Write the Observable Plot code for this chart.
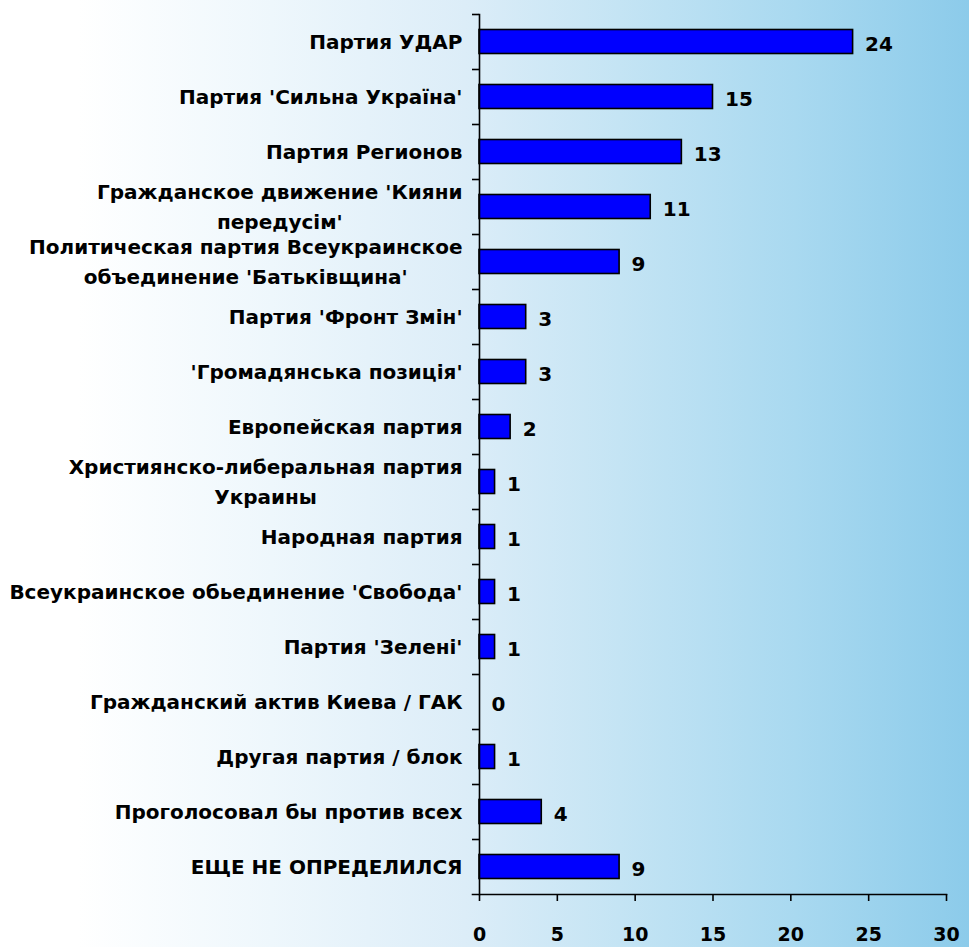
<!DOCTYPE html>
<html><head><meta charset="utf-8">
<script src="https://cdn.jsdelivr.net/npm/d3@7"></script>
<script src="https://cdn.jsdelivr.net/npm/@observablehq/plot@0.6"></script>
<style>html,body{margin:0;padding:0;background:#fff;overflow:hidden}</style>
</head><body><div id="chart"></div>
<script>
const categories = [
  "Партия УДАР",
  "Партия 'Сильна Україна'",
  "Партия Регионов",
  "Гражданское движение 'Кияни\nпередусім'",
  "Политическая партия Всеукраинское\nобъединение 'Батьківщина'",
  "Партия 'Фронт Змін'",
  "'Громадянська позиція'",
  "Европейская партия",
  "Християнско-либеральная партия\nУкраины",
  "Народная партия",
  "Всеукраинское обьединение 'Свобода'",
  "Партия 'Зелені'",
  "Гражданский актив Киева / ГАК",
  "Другая партия / блок",
  "Проголосовал бы против всех",
  "ЕЩЕ НЕ ОПРЕДЕЛИЛСЯ"
];
const values = [24, 15, 13, 11, 9, 3, 3, 2, 1, 1, 1, 1, 0, 1, 4, 9];
const xTicks = [0, 5, 10, 15, 20, 25, 30];

const data = categories.map((c, i) => ({category: c, value: values[i]}));

const W = 969, H = 947;
const mTop = 14, mBottom = 53, mLeft = 479, mRight = 23;
const step = (H - mTop - mBottom) / categories.length;
const barH = 24;

const chart = Plot.plot({
  width: W,
  height: H,
  marginTop: mTop,
  marginBottom: mBottom,
  marginLeft: mLeft,
  marginRight: mRight,
  style: {
    background: "linear-gradient(to right, #ffffff 0%, #ffffff 8%, #eef7fc 28%, #dcedf8 48%, #c4e4f4 64%, #a9d9f0 82%, #8ccbea 100%)",
    fontFamily: "'DejaVu Sans', sans-serif",
    color: "#000",
    overflow: "visible"
  },
  x: {domain: [0, 30], ticks: xTicks, label: null},
  y: {domain: categories, padding: 0, round: false, label: null},
  marks: [
    Plot.barX(data, {
      x: "value", y: "category",
      fill: "#0000ff", stroke: "#000", strokeWidth: 1.6,
      insetTop: (step - barH) / 2, insetBottom: (step - barH) / 2
    }),
    Plot.text(data, {
      x: "value", y: "category", text: d => String(d.value),
      textAnchor: "start", dx: 12, dy: 2.5,
      fontFamily: "'DejaVu Sans', sans-serif", fontWeight: "bold", fontSize: 20, fill: "#000"
    }),
    // category boundary ticks
    Plot.axisY({
      tickSize: 7, tickFormat: () => "", dy: -step / 2, stroke: "#000", strokeWidth: 1.6, label: null
    }),
    // category labels
    Plot.axisY({
      tickSize: 0, tickPadding: 17, fontSize: 20, lineHeight: 1.5, dy: -3,
      fontWeight: "bold", fill: "#000", label: null
    }),
    // x axis line (extends slightly left of zero like the original)
    Plot.frame({anchor: "bottom", stroke: "#000", strokeWidth: 1.6, insetLeft: -7}),
    Plot.frame({anchor: "left", stroke: "#000", strokeWidth: 1.6}),
    Plot.axisX({
      ticks: xTicks, tickSize: 7, tickPadding: 26, fontSize: 19, fontWeight: "bold",
      stroke: "#000", strokeWidth: 1.6, fill: "#000", label: null
    })
  ]
});

document.getElementById("chart").appendChild(chart);

// centre the lines of wrapped category labels within their right-aligned block
chart.querySelectorAll("g[aria-label='y-axis tick label'] text").forEach(t => {
  const spans = t.querySelectorAll("tspan");
  if (spans.length < 2) return;
  let maxW = 0;
  spans.forEach(s => { maxW = Math.max(maxW, s.getComputedTextLength()); });
  t.setAttribute("text-anchor", "middle");
  spans.forEach(s => s.setAttribute("x", -maxW / 2));
});
</script>
</body></html>
